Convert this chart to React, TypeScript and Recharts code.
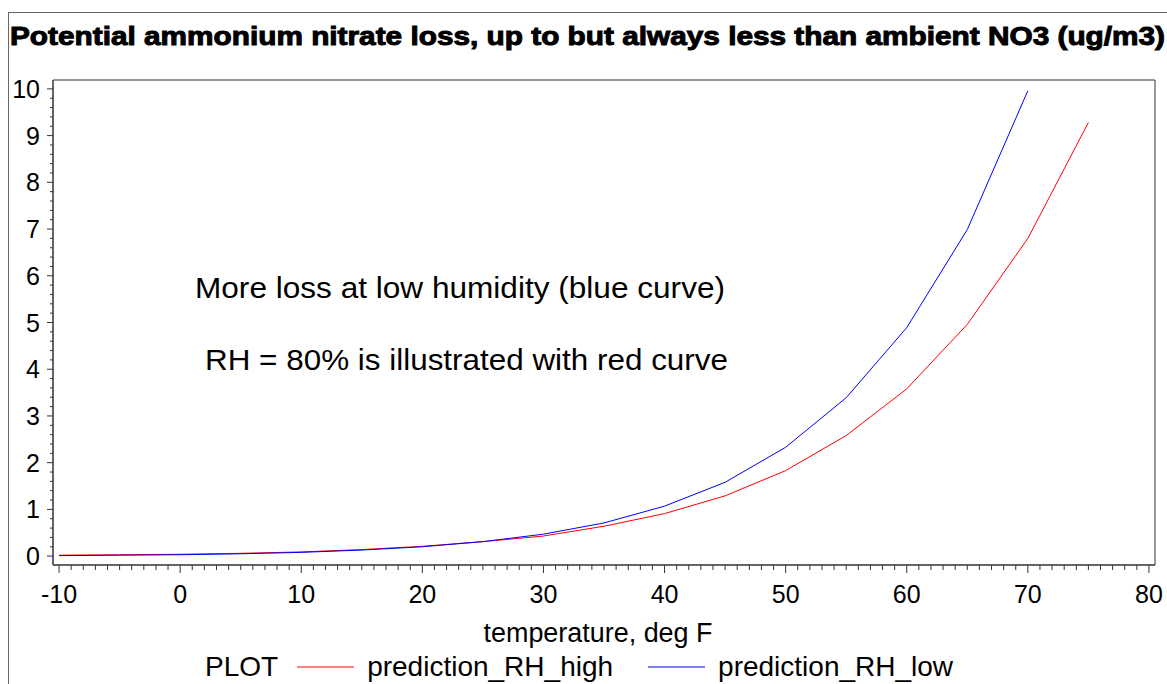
import React from 'react';
import { LineChart, Line, XAxis, YAxis, ReferenceArea, Legend } from 'recharts';

// temperature (deg F) and predicted loss (ug/m3)
const temperatures = [-10, -5, 0, 5, 10, 15, 20, 25, 30, 35, 40, 45, 50, 55, 60, 65, 70, 75];
const predictionRhHigh = [0.02, 0.03, 0.04, 0.06, 0.09, 0.14, 0.21, 0.31, 0.43, 0.64, 0.91, 1.29, 1.83, 2.58, 3.58, 4.96, 6.8, 9.28];
const predictionRhLow = [0.01, 0.02, 0.03, 0.05, 0.08, 0.13, 0.2, 0.31, 0.47, 0.71, 1.07, 1.58, 2.33, 3.39, 4.89, 6.99, 9.96, null];

const xMajorTicks = [-10, 0, 10, 20, 30, 40, 50, 60, 70, 80];
const yMajorTicks = [0, 1, 2, 3, 4, 5, 6, 7, 8, 9, 10];

const FONT = '"Liberation Sans", Arial, Helvetica, sans-serif';
const AXIS = '#333';
const RED = '#ff0000';
const BLUE = '#0000ff';
const SERIES_COLORS: Record<string, string> = { prediction_RH_high: RED, prediction_RH_low: BLUE };

const data = temperatures.map((t, i) => ({
  t,
  high: predictionRhHigh[i],
  low: predictionRhLow[i],
}));

// minor ticks: every 1 deg on x, every 0.2 on y
const xTicks: number[] = [];
for (let v = xMajorTicks[0]; v <= xMajorTicks[xMajorTicks.length - 1]; v++) xTicks.push(v);
const yTicks: number[] = [];
for (let i = 0; i <= yMajorTicks[yMajorTicks.length - 1] * 5; i++) yTicks.push(Math.round(i * 2) / 10);

const XTick = (props: any) => {
  const { x, y, payload } = props;
  const major = xMajorTicks.includes(payload.value);
  return (
    <g>
      <line x1={x} x2={x} y1={y} y2={y + (major ? 8 : 5)} stroke={AXIS} />
      {major && (
        <text x={x} y={y + 38} textAnchor="middle" fontSize={25} fontFamily={FONT} fill="#000">
          {payload.value}
        </text>
      )}
    </g>
  );
};

const YTick = (props: any) => {
  const { x, y, payload } = props;
  const major = yMajorTicks.includes(payload.value);
  return (
    <g>
      <line x1={x - (major ? 6 : 3)} x2={x} y1={y} y2={y} stroke={AXIS} />
      {major && (
        <text x={x - 13} y={y} dy="0.36em" textAnchor="end" fontSize={25} fontFamily={FONT} fill="#000">
          {payload.value}
        </text>
      )}
    </g>
  );
};

const XLabel = (props: any) => {
  const { viewBox } = props;
  return (
    <text
      x={viewBox.x + viewBox.width / 2 - 6}
      y={viewBox.y + 77}
      textAnchor="middle"
      fontSize={27}
      fontFamily={FONT}
      fill="#000"
      textLength={229}
      lengthAdjust="spacingAndGlyphs"
    >
      temperature, deg F
    </text>
  );
};

const renderLegend = (props: any) => {
  const { payload } = props;
  return (
    <div
      style={{
        display: 'flex',
        alignItems: 'center',
        height: 30,
        paddingLeft: 197,
        fontFamily: FONT,
        fontSize: 28,
        color: '#000',
        whiteSpace: 'nowrap',
      }}
    >
      <span style={{ marginRight: 19 }}>PLOT</span>
      {(payload || []).map((p: any, i: number) => (
        <span key={i} style={{ display: 'flex', alignItems: 'center', marginRight: 35 }}>
          <svg width={57} height={4} style={{ marginRight: 13 }}>
            <line x1={0} x2={57} y1={2} y2={2} stroke={SERIES_COLORS[p.value] || p.color} strokeWidth={1} />
          </svg>
          <span>{p.value}</span>
        </span>
      ))}
    </div>
  );
};

export default function App() {
  return (
    <div style={{ position: 'fixed', left: 0, top: 0, width: 1167, height: 684, background: '#fff' }}>
      <div
        style={{
          position: 'absolute',
          left: 8,
          top: 12,
          width: 1159,
          height: 672,
          borderLeft: '1px solid #666',
          borderTop: '1px solid #666',
        }}
      />
      <div style={{ position: 'absolute', left: 8, top: 8 }}>
        <LineChart width={1159} height={676} data={data} margin={{ top: 72, right: 12, bottom: 0, left: 0 }}>
          <ReferenceArea x1={-10.5} x2={80.5} y1={-0.19} y2={10.19} fill="none" stroke={AXIS} strokeWidth={1} />
          <XAxis
            dataKey="t"
            type="number"
            domain={[-10.5, 80.5]}
            ticks={xTicks}
            interval={0}
            tickLine={false}
            tickSize={0}
            tickMargin={0}
            tick={<XTick />}
            height={89}
            stroke={AXIS}
            label={<XLabel />}
          />
          <YAxis
            type="number"
            domain={[-0.19, 10.19]}
            ticks={yTicks}
            interval={0}
            tickLine={false}
            tickSize={0}
            tickMargin={0}
            tick={<YTick />}
            width={45}
            stroke={AXIS}
          />
          <Legend
            verticalAlign="bottom"
            content={renderLegend}
            wrapperStyle={{ top: 644, left: 0, bottom: 'auto', width: 1159, height: 30 }}
          />
          <Line
            type="linear"
            dataKey="high"
            name="prediction_RH_high"
            stroke={RED}
            strokeWidth={1}
            dot={false}
            isAnimationActive={false}
          />
          <Line
            type="linear"
            dataKey="low"
            name="prediction_RH_low"
            stroke={BLUE}
            strokeWidth={1}
            dot={false}
            isAnimationActive={false}
          />
        </LineChart>
      </div>
      <svg
        width={1167}
        height={684}
        style={{ position: 'absolute', left: 0, top: 0, pointerEvents: 'none' }}
      >
        <text
          x={10}
          y={45}
          fontSize={26}
          fontWeight="bold"
          fontFamily={FONT}
          fill="#000"
          stroke="#000"
          strokeWidth={1}
          textLength={1155}
          lengthAdjust="spacingAndGlyphs"
        >
          Potential ammonium nitrate loss, up to but always less than ambient NO3 (ug/m3)
        </text>
        <text x={195} y={298} fontSize={29} fontFamily={FONT} fill="#000" textLength={530} lengthAdjust="spacingAndGlyphs">
          More loss at low humidity (blue curve)
        </text>
        <text x={205} y={370} fontSize={29} fontFamily={FONT} fill="#000" textLength={523} lengthAdjust="spacingAndGlyphs">
          RH = 80% is illustrated with red curve
        </text>
      </svg>
    </div>
  );
}
